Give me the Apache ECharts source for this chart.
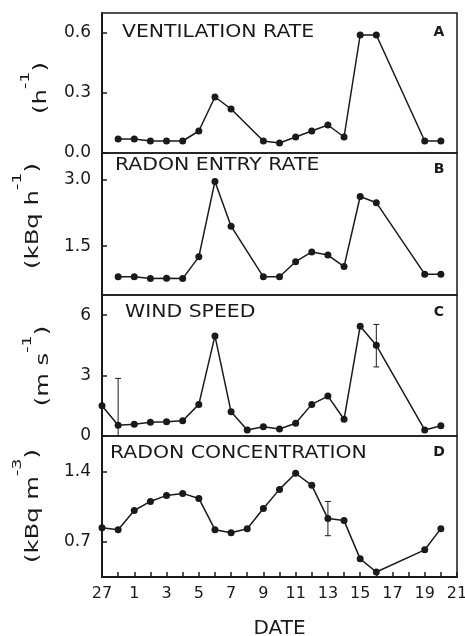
<!DOCTYPE html>
<html>
<head>
<meta charset="utf-8">
<script src="https://cdn.jsdelivr.net/npm/echarts@6/dist/echarts.min.js"></script>
<style>
  html, body { margin: 0; padding: 0; background: #fff; }
  #chart { width: 465px; height: 636px; }
</style>
</head>
<body>
<div id="chart"></div>
<script>
// day axis: one tick per day, labels on every other one
const dayTicks = ['27', '28', '1', '2', '3', '4', '5', '6', '7', '8', '9', '10', '11', '12', '13', '14', '15', '16', '17', '18', '19', '20', '21']

const ventDays = ['28', '1', '2', '3', '4', '5', '6', '7', '9', '10', '11', '12', '13', '14', '15', '16', '19', '20']
const ventRate = [0.07, 0.07, 0.06, 0.06, 0.06, 0.11, 0.28, 0.22, 0.06, 0.05, 0.08, 0.11, 0.14, 0.08, 0.59, 0.59, 0.06, 0.06]

const entryDays = ['28', '1', '2', '3', '4', '5', '6', '7', '9', '10', '11', '12', '13', '14', '15', '16', '19', '20']
const entryRate = [0.81, 0.81, 0.77, 0.78, 0.77, 1.26, 2.96, 1.95, 0.81, 0.81, 1.15, 1.37, 1.30, 1.04, 2.62, 2.48, 0.87, 0.87]

const windDays = ['27', '28', '1', '2', '3', '4', '5', '6', '7', '8', '9', '10', '11', '12', '13', '14', '15', '16', '19', '20']
const windSpeed = [1.5, 0.53, 0.58, 0.68, 0.71, 0.76, 1.57, 4.97, 1.2, 0.30, 0.46, 0.35, 0.63, 1.57, 1.98, 0.83, 5.45, 4.5, 0.30, 0.51]
const windErrDays = ['28', '16']
const windErrLow = [-1.8, 3.43]
const windErrHigh = [2.86, 5.54]

const concDays = ['27', '28', '1', '2', '3', '4', '5', '6', '7', '8', '9', '10', '11', '12', '13', '14', '15', '16', '19', '20']
const concentration = [0.84, 0.82, 1.01, 1.10, 1.16, 1.18, 1.13, 0.82, 0.79, 0.83, 1.03, 1.22, 1.38, 1.26, 0.93, 0.91, 0.53, 0.40, 0.62, 0.83]
const concErrDays = ['13']
const concErrLow = [0.76]
const concErrHigh = [1.10]

const ink = '#1a1a1a'
const font = 'DejaVu Sans'

function pairs(days, vals) {
  return days.map((d, i) => [dayTicks.indexOf(d), vals[i]])
}

function errData(days, lo, hi) {
  return days.map((d, i) => [dayTicks.indexOf(d), lo[i], hi[i]])
}

const chart = echarts.init(document.getElementById('chart'))

const panels = [
  { top: 13, height: 140, min: 0, max: 0.7, labels: [0, 0.3, 0.6], dec: 1, unit: ['(h', '-1', ')'], nx: 41, ny: 88, title: 'VENTILATION RATE', tx: 122, ty: 33, tag: 'A', tagY: 32 },
  { top: 153, height: 142, min: 0.4, max: 3.6, labels: [1.5, 3.0], dec: 1, unit: ['(kBq h', '-1', ')'], nx: 33, ny: 216, title: 'RADON ENTRY RATE', tx: 115, ty: 166, tag: 'B', tagY: 169 },
  { top: 295, height: 141, min: 0, max: 7, labels: [0, 3, 6], dec: 0, unit: ['(m s', '-1', ')'], nx: 43, ny: 366, title: 'WIND SPEED', tx: 125, ty: 313, tag: 'C', tagY: 312 },
  { top: 436, height: 141, min: 0.35, max: 1.75, labels: [0.7, 1.4], dec: 1, unit: ['(kBq m', '-3', ')'], nx: 33, ny: 506, title: 'RADON CONCENTRATION', tx: 110, ty: 454, tag: 'D', tagY: 452 }
]

const grid = panels.map(p => ({
  left: 102, right: 8, top: p.top, height: p.height, outerBoundsMode: 'none',
  show: true, borderColor: ink, borderWidth: 1.5, backgroundColor: 'transparent'
}))

const xAxis = panels.map((p, i) => {
  const last = i === panels.length - 1
  return {
    type: 'value', gridIndex: i, min: 0, max: dayTicks.length - 1, interval: 1,
    axisLine: { show: last, lineStyle: { color: ink, width: 2 } },
    axisTick: { show: last, inside: true, length: 5, lineStyle: { color: ink, width: 1.5 } },
    axisLabel: {
      show: last, margin: 9, fontSize: 16, fontFamily: font, color: ink,
      formatter: v => (v % 2 === 0 ? dayTicks[v] : '')
    },
    splitLine: { show: false },
    name: last ? 'DATE' : '',
    nameLocation: 'middle', nameGap: 42,
    nameTextStyle: { fontSize: 20, fontFamily: font, color: ink }
  }
})

const yAxis = panels.map((p, i) => ({
  type: 'value', gridIndex: i, min: p.min, max: p.max,
  axisLine: { show: true, lineStyle: { color: ink, width: 2 } },
  axisTick: { show: true, inside: true, length: 5, customValues: p.labels, lineStyle: { color: ink, width: 1.5 } },
  axisLabel: {
    show: true, margin: 11, fontSize: 17, fontFamily: font, color: ink,
    customValues: p.labels, formatter: v => v.toFixed(p.dec)
  },
  splitLine: { show: false }
}))

function lineSeries(i, data) {
  return {
    type: 'line', xAxisIndex: i, yAxisIndex: i, data,
    symbol: 'circle', symbolSize: 7, showSymbol: true,
    lineStyle: { color: ink, width: 1.5 },
    itemStyle: { color: ink },
    animation: false, z: 3
  }
}

function errSeries(i, data) {
  return {
    type: 'custom', xAxisIndex: i, yAxisIndex: i, data, clip: true, animation: false, z: 2,
    renderItem: (params, api) => {
      const x = api.value(0)
      const lo = api.coord([x, api.value(1)])
      const hi = api.coord([x, api.value(2)])
      const w = 3
      const style = { stroke: ink, lineWidth: 1 }
      return {
        type: 'group',
        children: [
          { type: 'line', shape: { x1: lo[0], y1: lo[1], x2: hi[0], y2: hi[1] }, style },
          { type: 'line', shape: { x1: hi[0] - w, y1: hi[1], x2: hi[0] + w, y2: hi[1] }, style },
          { type: 'line', shape: { x1: lo[0] - w, y1: lo[1], x2: lo[0] + w, y2: lo[1] }, style }
        ]
      }
    }
  }
}

const series = [
  lineSeries(0, pairs(ventDays, ventRate)),
  lineSeries(1, pairs(entryDays, entryRate)),
  lineSeries(2, pairs(windDays, windSpeed)),
  errSeries(2, errData(windErrDays, windErrLow, windErrHigh)),
  lineSeries(3, pairs(concDays, concentration)),
  errSeries(3, errData(concErrDays, concErrLow, concErrHigh))
]

// panel titles, letters and rotated unit labels (the old plotter lettering is widely spaced, hence scaleX)
const graphic = []
panels.forEach(p => {
  graphic.push({
    type: 'text', x: p.tx, y: p.ty, scaleX: 1.2,
    style: { text: p.title, font: `17px "${font}"`, fill: ink, verticalAlign: 'middle' }
  })
  graphic.push({
    type: 'text', x: 439, y: p.tagY,
    style: { text: p.tag, font: `bold 14px "${font}"`, fill: ink, align: 'center', verticalAlign: 'middle' }
  })
  graphic.push({
    type: 'text', x: p.nx, y: p.ny, rotation: Math.PI / 2, scaleX: 1.35,
    style: {
      text: `{t|${p.unit[0]}}{s|${p.unit[1]}}{t|${p.unit[2]}}`,
      align: 'center', verticalAlign: 'middle',
      rich: {
        t: { fontSize: 18, fontFamily: font, fill: ink, lineHeight: 44 },
        s: { fontSize: 13, fontFamily: font, fill: ink, lineHeight: 13, verticalAlign: 'top' }
      }
    }
  })
})

chart.setOption({
  backgroundColor: '#fff',
  animation: false,
  grid, xAxis, yAxis, series, graphic
})
</script>
</body>
</html>
